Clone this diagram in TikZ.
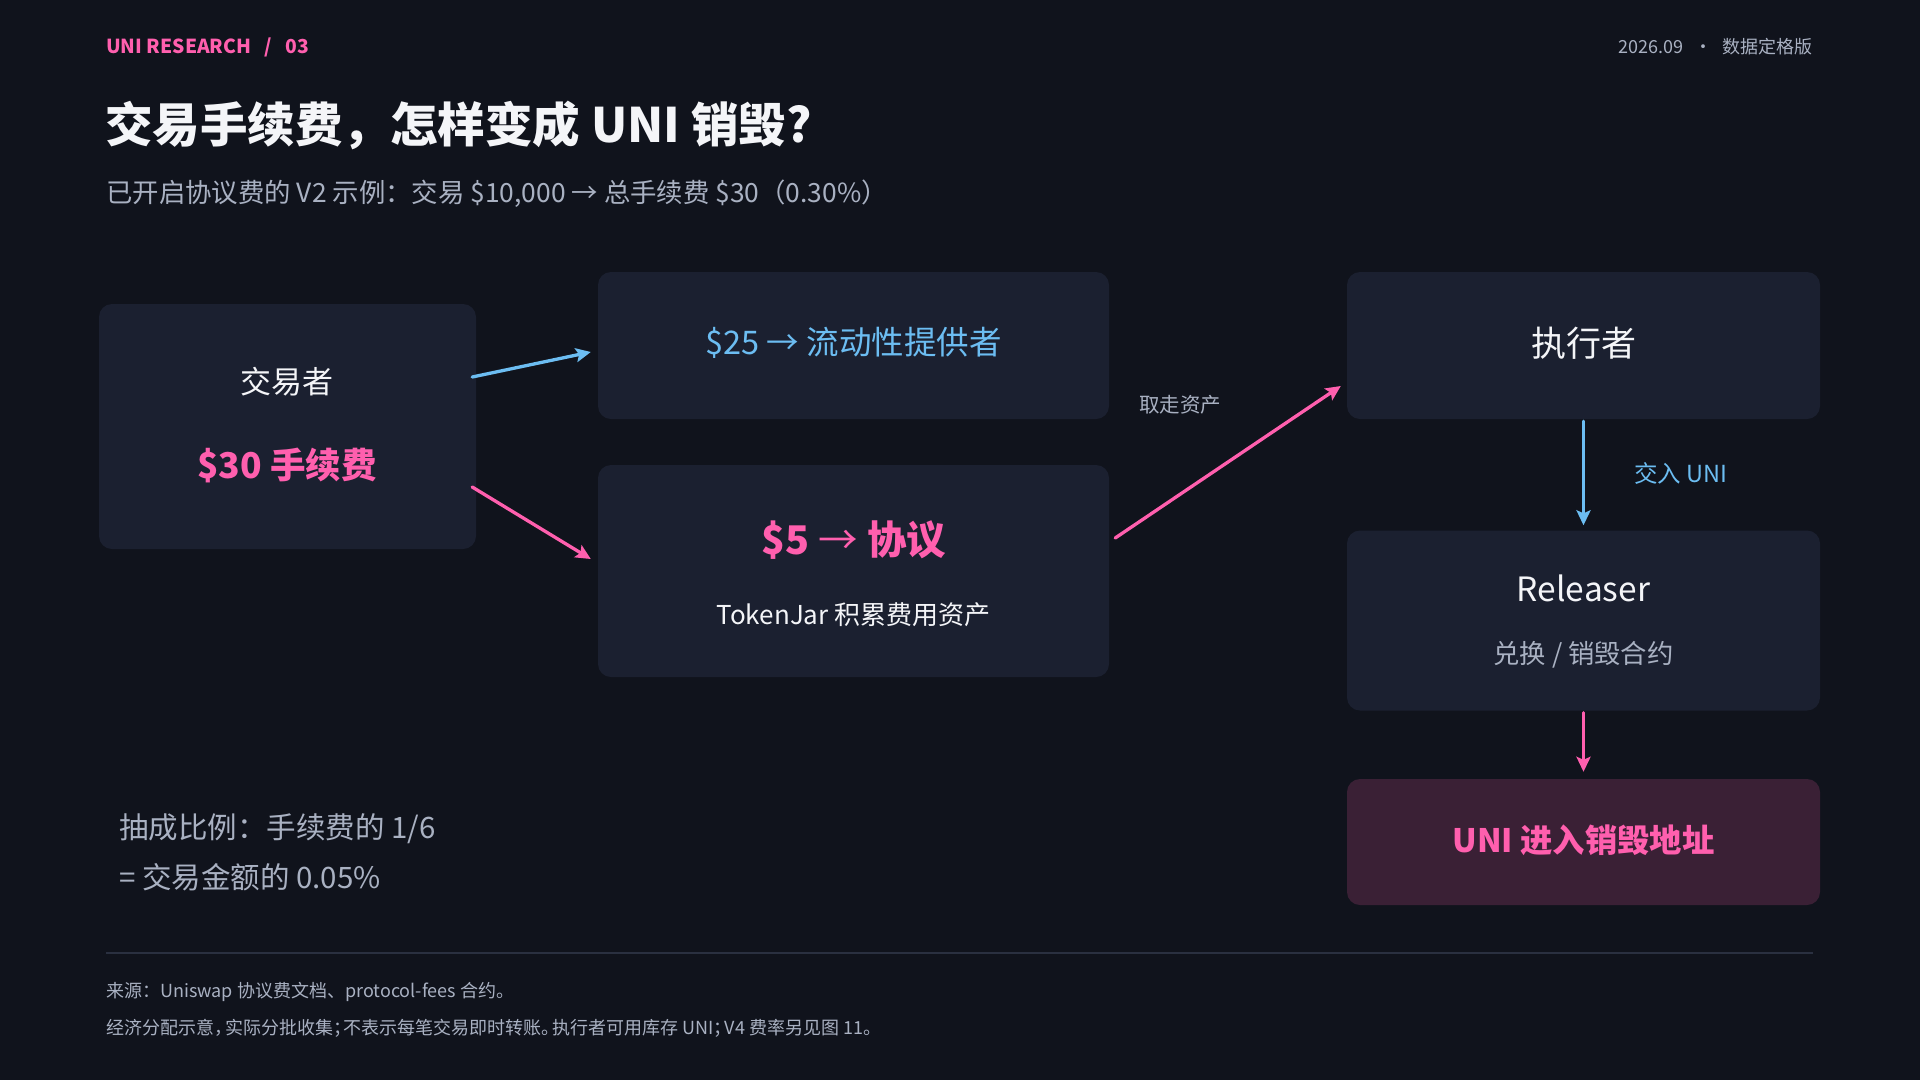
\documentclass[tikz,border=0pt]{standalone}
\usepackage{fontspec}
\setmainfont{Noto Sans CJK SC}
\usetikzlibrary{arrows.meta,calc}
\definecolor{bg}{HTML}{10131C}
\definecolor{boxfill}{HTML}{1B2030}
\definecolor{burnfill}{HTML}{3A2035}
\definecolor{cblue}{HTML}{6CBDF2}
\definecolor{cpink}{HTML}{FF5FAE}
\definecolor{cgray}{HTML}{A9B1C2}
\definecolor{cwhite}{HTML}{F4F5F8}
\definecolor{crule}{HTML}{2A3040}
\newcommand{\hp}{\hspace{-0.4em}}
\tikzset{
  x=1pt, y=-1pt,
  panel/.style={fill=boxfill, rounded corners=13pt, draw=none, inner sep=0pt},
  burnpanel/.style={fill=burnfill, rounded corners=13pt, draw=none, inner sep=0pt},
  lbl/.style={inner sep=0pt, font=\fontsize{#1}{#1}\selectfont},
  flow/.style={line width=3.3pt, line cap=round, draw=#1, -{Stealth[length=15pt,width=14pt,inset=3pt]}},
}
\begin{document}
\begin{tikzpicture}
\fill[bg] (0,0) rectangle (1920,1080);
\useasboundingbox (0,0) rectangle (1920,1080);

% header
\node[lbl=19.3, anchor=west, text=cpink] (hdr) at (106,47.5) {\bfseries UNI RESEARCH\hspace{0.7em}/\hspace{0.7em}03};
\node[lbl=18, anchor=east, text=cgray] (date) at (1813,47) {2026.09\hspace{0.6em}·\hspace{0.6em}数据定格版};
\node[lbl=47.5, anchor=west, text=cwhite] (title) at (105,125) {\bfseries 交易手续费，怎样变成 UNI 销毁?};
\node[lbl=26.4, anchor=west, text=cgray] (sub) at (106,194) {已开启协议费的 V2 示例：交易 \$10,000 → 总手续费 \$30（0.30\%）};

% panels
\node[panel, minimum width=377pt, minimum height=245pt] (trader) at (287.5,426.5) {};
\node[panel, minimum width=511pt, minimum height=147pt] (lp) at (853.5,345.5) {};
\node[panel, minimum width=511pt, minimum height=212pt] (proto) at (853.5,571) {};
\node[panel, minimum width=473pt, minimum height=147pt] (exec) at (1583.5,345.5) {};
\node[panel, minimum width=473pt, minimum height=180pt] (rel) at (1583.5,620.5) {};
\node[burnpanel, minimum width=473pt, minimum height=126pt] (burn) at (1583.5,842) {};

% panel texts
\node[lbl=31, text=cwhite] (traderT) at (287,382) {交易者};
\node[lbl=35.5, text=cpink] (traderF) at (287,465.5) {\bfseries \$30 手续费};
\node[lbl=32.5, text=cblue] (lpT) at (853.5,343) {\$25 → 流动性提供者};
\node[lbl=39.5, text=cpink] (protoT) at (854,540) {\bfseries \$5 {\mdseries →} 协议};
\node[lbl=26, text=cwhite] (protoS) at (853.5,615) {TokenJar 积累费用资产};
\node[lbl=35, text=cwhite] (execT) at (1583.5,343) {执行者};
\node[lbl=33.5, text=cwhite] (relT) at (1583.5,588) {Releaser};
\node[lbl=26.3, text=cgray] (relS) at (1583.5,655) {兑换 / 销毁合约};
\node[lbl=32.3, text=cpink] (burnT) at (1583.5,840) {\bfseries UNI 进入销毁地址};

% connectors
\draw[flow=cblue] ($(trader.east)+(-4,-49.5)$) -- ($(lp.west)+(-7,6.5)$);
\draw[flow=cpink] ($(trader.east)+(-4,60.5)$) -- ($(proto.west)+(-7,-12)$);
\draw[flow=cpink] ($(proto.east)+(6,-33)$) -- ($(exec.west)+(-6,40.5)$);
\draw[flow=cblue] ($(exec.south)+(0,2)$) -- ($(rel.north)+(0,-5)$);
\draw[flow=cpink] ($(rel.south)+(0,2)$) -- ($(burn.north)+(0,-7)$);

\node[lbl=20.5, text=cgray] (takeL) at (1180,405) {取走资产};
\node[lbl=23.5, text=cblue] (payL) at (1681,473) {交入 UNI};

% left note
\node[lbl=29.5, anchor=west, text=cgray] (note1) at (119,828.5) {抽成比例：手续费的 1/6};
\node[lbl=29.5, anchor=west, text=cgray] (note2) at (119,877) {= 交易金额的 0.05\%};

% footer
\draw[crule, line width=1.5pt] (106,953) -- (1813,953);
\node[lbl=18, anchor=west, text=cgray] (src) at (106,991.5) {来源：Uniswap 协议费文档、protocol-fees 合约。};
\node[lbl=18, anchor=west, text=cgray] (disc) at (106,1028) {经济分配示意，\hp 实际分批收集；\hp 不表示每笔交易即时转账。\hp 执行者可用库存 UNI；\hp V4 费率另见图 11。};
\end{tikzpicture}
\end{document}
